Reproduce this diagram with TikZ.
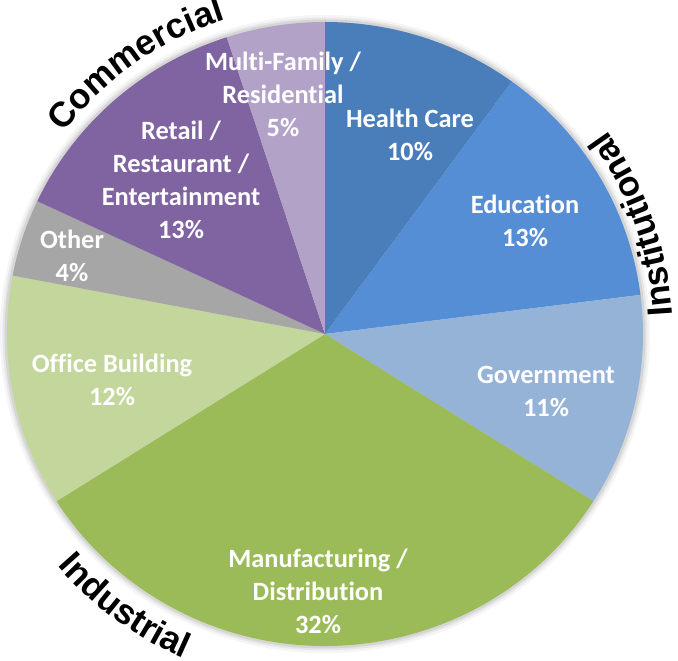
\documentclass[tikz,border=0pt]{standalone}
\usepackage{fontspec}
\newfontfamily\calib{Carlito}[Ligatures=NoCommon]
\newfontfamily\arialf{Liberation Sans}
\usetikzlibrary{decorations.text}
% Farben der Segmente
\definecolor{hcblau}{HTML}{4A7EBB}
\definecolor{edublau}{HTML}{558ED5}
\definecolor{govblau}{HTML}{95B3D7}
\definecolor{mangruen}{HTML}{9BBB59}
\definecolor{offgruen}{HTML}{C3D69B}
\definecolor{othgrau}{HTML}{A6A6A6}
\definecolor{retlila}{HTML}{8064A2}
\definecolor{mflila}{HTML}{B3A2C7}
\tikzset{
  slicetext/.style={text=white, align=center, font=\calib\bfseries\fontsize{15}{18.8}\selectfont},
  bogentext/.style={decorate, decoration={text along path, text align=center, text={|\arialf\bfseries\fontsize{20}{24}\selectfont|#1}}}
}
\begin{document}
\begin{tikzpicture}[thick]
			\useasboundingbox (-6.5,-6.54) rectangle (7.06,6.68);
			% Schatten
			\foreach \d/\o in {0.14/0.04, 0.09/0.06, 0.05/0.08}
				\fill [black, opacity=\o] (0,0) ellipse [x radius=6.36+\d, y radius=6.24+\d];
			% Segmente
			\foreach \a/\b/\c in {90/54/hcblau, 54/7.2/edublau, 7.2/-32.4/govblau, -32.4/-147.6/mangruen, -147.6/-190.8/offgruen, -190.8/-205.2/othgrau, -205.2/-252/retlila, -252/-270/mflila}
				\fill [\c] (0,0) -- (\a:6.36 and 6.24) arc [start angle=\a, end angle=\b, x radius=6.36, y radius=6.24] -- cycle;
			% Beschriftung der Segmente
			\node [slicetext] (mf) at (-0.84,4.80) {Multi-Family /\\Residential\\5\%};
			\node [slicetext] (hc) at (1.70,3.98) {Health Care\\10\%};
			\node [slicetext] (edu) at (4.00,2.26) {Education\\13\%};
			\node [slicetext] (gov) at (4.42,-1.14) {Government\\11\%};
			\node [slicetext] (man) at (-0.14,-5.14) {Manufacturing /\\Distribution\\32\%};
			\node [slicetext] (off) at (-4.26,-0.92) {Office Building\\12\%};
			\node [slicetext] (oth) at (-5.06,1.56) {Other\\4\%};
			\node [slicetext] (ret) at (-2.88,3.08) {Retail /\\Restaurant /\\Entertainment\\13\%};
			% Gruppen am Rand
			\path [bogentext=Commercial] (160:6.6) arc [start angle=160, end angle=90, radius=6.6];
			\path [bogentext=Institutional] (-21:6.95) arc [start angle=-21, end angle=60, radius=6.95];
			\path [bogentext=Industrial] (195:7.08) arc [start angle=195, end angle=272.4, radius=7.08];
		\end{tikzpicture}
\end{document}
